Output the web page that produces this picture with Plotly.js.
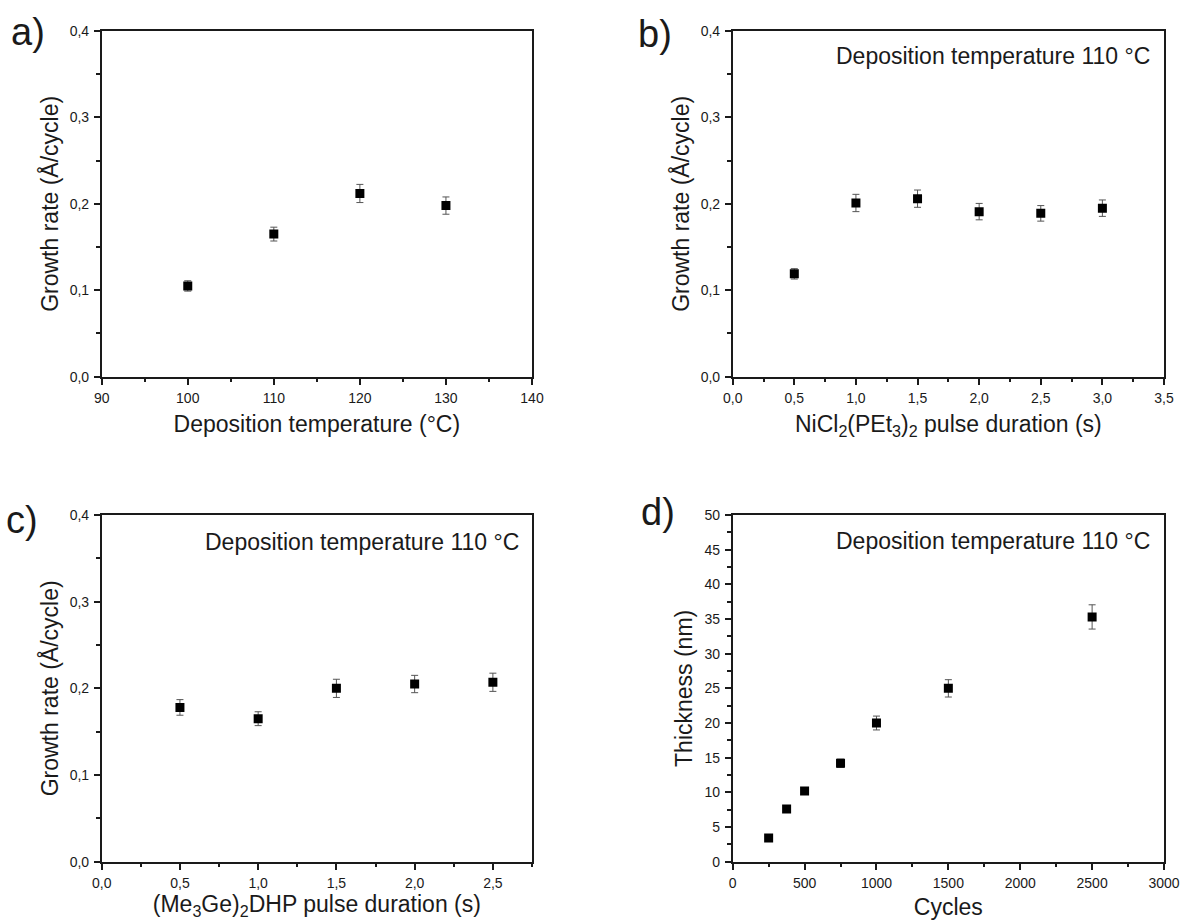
<!DOCTYPE html>
<html>
<head>
<meta charset="utf-8">
<script src="https://cdn.plot.ly/plotly-3.0.1.min.js"></script>
<style>
  html, body { margin: 0; padding: 0; background: #ffffff; }
  #chart { width: 1181px; height: 920px; }
</style>
</head>
<body>
<div id="chart"></div>
<script>
// ---- Data ----
// a) growth rate vs deposition temperature
const tempA = [100, 110, 120, 130];
const rateA = [0.105, 0.165, 0.212, 0.198];
const errA  = [0.006, 0.008, 0.0105, 0.010];

// b) growth rate vs NiCl2(PEt3)2 pulse duration
const pulseB = [0.5, 1.0, 1.5, 2.0, 2.5, 3.0];
const rateB  = [0.119, 0.201, 0.206, 0.191, 0.189, 0.195];
const errB   = [0.006, 0.010, 0.010, 0.0095, 0.009, 0.0095];

// c) growth rate vs (Me3Ge)2DHP pulse duration
const pulseC = [0.5, 1.0, 1.5, 2.0, 2.5];
const rateC  = [0.178, 0.165, 0.200, 0.205, 0.207];
const errC   = [0.009, 0.008, 0.0105, 0.010, 0.0105];

// d) thickness vs cycles
const cyclesD    = [250, 375, 500, 750, 1000, 1500, 2500];
const thicknessD = [3.4, 7.6, 10.2, 14.2, 20.0, 25.0, 35.3];
const errD       = [0.3, 0.25, 0.35, 0.6, 1.0, 1.25, 1.75];

const panelLabels = ['a)', 'b)', 'c)', 'd)'];
const noteText = 'Deposition temperature 110 °C';
const xTitleA = 'Deposition temperature (°C)';
const xTitleB = 'NiCl<sub>2</sub>(PEt<sub>3</sub>)<sub>2</sub> pulse duration (s)';
const xTitleC = '(Me<sub>3</sub>Ge)<sub>2</sub>DHP pulse duration (s)';
const xTitleD = 'Cycles';
const yTitleRate = 'Growth rate (Å/cycle)';
const yTitleD = 'Thickness (nm)';

// ---- Styling ----
const FONT = 'Liberation Sans, Arial, Helvetica, sans-serif';
const INK = '#1a1a1a';

function trace(x, y, e, xa, ya) {
  return {
    type: 'scatter', mode: 'markers', x: x, y: y,
    xaxis: xa, yaxis: ya,
    marker: { symbol: 'square', size: 9, color: '#000000' },
    error_y: { type: 'data', array: e, visible: true, color: '#555555', thickness: 1, width: 3.5 },
    showlegend: false, hoverinfo: 'x+y'
  };
}

function axis(domain, range, dtick, minorDtick, fmt, titleText, anchor, standoff) {
  return {
    domain: domain, range: range, anchor: anchor,
    dtick: dtick, tick0: 0, tickformat: fmt,
    showgrid: false, zeroline: false,
    showline: true, mirror: true, linecolor: INK, linewidth: 1.6,
    ticks: 'outside', ticklen: 6, tickwidth: 1.5, tickcolor: INK,
    ticklabelstandoff: 2,
    minor: { dtick: minorDtick, tick0: 0, ticks: 'outside', ticklen: 3.5, tickwidth: 1.5, tickcolor: INK, showgrid: false },
    tickfont: { family: FONT, size: 14, color: INK },
    title: { text: titleText, font: { family: FONT, size: 23, color: INK }, standoff: standoff },
    fixedrange: true
  };
}

const W = 1181, H = 920;
const xL = [101.7 / W, 532 / W];
const xR = [732.7 / W, 1164 / W];
const yT = [1 - 376.7 / H, 1 - 31 / H];
const yB = [1 - 861.7 / H, 1 - 515 / H];

const data = [
  trace(tempA, rateA, errA, 'x', 'y'),
  trace(pulseB, rateB, errB, 'x2', 'y2'),
  trace(pulseC, rateC, errC, 'x3', 'y3'),
  trace(cyclesD, thicknessD, errD, 'x4', 'y4')
];

function label(txt, px, py) {
  return { text: txt, xref: 'paper', yref: 'paper', x: px / W, y: 1 - py / H,
           xanchor: 'left', yanchor: 'middle', showarrow: false,
           font: { family: FONT, size: 38, color: INK } };
}
function note(px, py) {
  return { text: noteText, xref: 'paper', yref: 'paper', x: px / W, y: 1 - py / H,
           xanchor: 'right', yanchor: 'middle', showarrow: false,
           font: { family: FONT, size: 23, color: INK } };
}

const layout = {
  width: W, height: H,
  margin: { l: 0, r: 0, t: 0, b: 0 },
  paper_bgcolor: '#ffffff', plot_bgcolor: '#ffffff',
  separators: ', ',
  showlegend: false,
  font: { family: FONT, color: INK },
  xaxis:  axis(xL, [90, 140], 10, 5, 'd', xTitleA, 'y', 11),
  yaxis:  axis(yT, [0, 0.4], 0.1, 0.05, '.1f', yTitleRate, 'x', 5),
  xaxis2: axis(xR, [0, 3.5], 0.5, 0.25, '.1f', xTitleB, 'y2', 11),
  yaxis2: axis(yT, [0, 0.4], 0.1, 0.05, '.1f', yTitleRate, 'x2', 5),
  xaxis3: axis(xL, [0, 2.75], 0.5, 0.25, '.1f', xTitleC, 'y3', 11),
  yaxis3: axis(yB, [0, 0.4], 0.1, 0.05, '.1f', yTitleRate, 'x3', 5),
  xaxis4: axis(xR, [0, 3000], 500, 250, 'd', xTitleD, 'y4', 11),
  yaxis4: axis(yB, [0, 50], 5, 2.5, 'd', yTitleD, 'x4', 5),
  annotations: [
    label(panelLabels[0], 9, 32),
    label(panelLabels[1], 636, 34),
    label(panelLabels[2], 4, 520),
    label(panelLabels[3], 639, 512),
    note(1152, 56),
    note(521, 542),
    note(1152, 541)
  ]
};

Plotly.newPlot('chart', data, layout, { displayModeBar: false, staticPlot: false, responsive: false });
</script>
</body>
</html>
